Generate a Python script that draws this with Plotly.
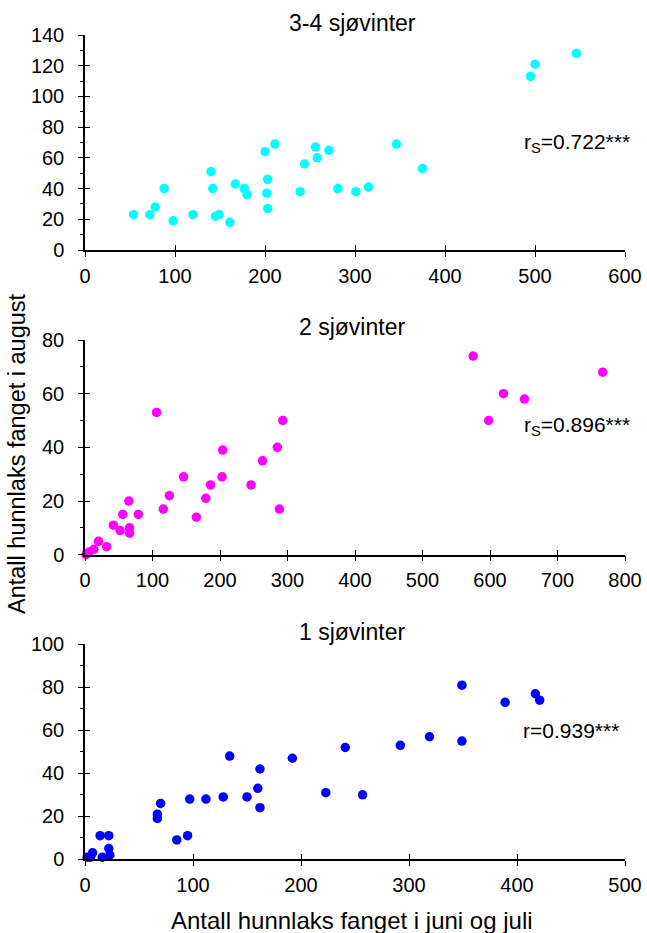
import plotly.graph_objects as go

# 3-4 sjøvinter
juni_juli_34 = [54, 72, 78, 88, 98, 120, 140, 142, 145, 149, 161, 167, 177, 180, 200, 203,
                202, 203, 211, 239, 244, 256, 258, 271, 281, 301, 315, 346, 375, 495, 500, 546]
august_34 = [23, 23, 28, 40, 19, 23, 51, 40, 22, 23, 18, 43, 40, 36, 64, 46,
             37, 27, 69, 38, 56, 67, 60, 65, 40, 38, 41, 69, 53, 113, 121, 128]

# 2 sjøvinter
juni_juli_2 = [1.5, 6, 13, 20, 32, 42, 52, 56, 65, 66, 66, 79, 106, 116, 125, 146, 165, 179,
               186, 203, 204, 246, 263, 285, 288, 293, 575, 598, 620, 651, 767]
august_2 = [0, 1, 2, 5, 3, 11, 9, 15, 20, 10, 8, 15, 53, 17, 22, 29, 14, 21,
            26, 29, 39, 26, 35, 40, 17, 50, 74, 50, 60, 58, 68]

# 1 sjøvinter
juni_juli_1 = [2, 5, 7, 14, 16, 22, 22, 23, 67, 67, 70, 85, 95, 97, 112, 128, 134, 150,
               160, 162, 162, 192, 223, 241, 257, 292, 319, 349, 349, 389, 417, 421]
august_1 = [1, 1, 3, 11, 1, 11, 5, 2, 21, 19, 26, 9, 11, 28, 28, 29, 48, 29,
            33, 42, 24, 47, 31, 52, 30, 53, 57, 55, 81, 73, 77, 74]

titles = ["3-4 sjøvinter", "2 sjøvinter", "1 sjøvinter"]
stats = ["r<sub>S</sub>=0.722***", "r<sub>S</sub>=0.896***", "r=0.939***"]
stat_pos = [(485, 70), (647, 48), (404, 60)]
colors = ["#00FFFF", "#FF00FF", "#0000FF"]
x_ranges = [(0, 600, 100), (0, 800, 100), (0, 500, 100)]
y_ranges = [(0, 140, 20), (0, 80, 20), (0, 100, 20)]

W, H = 647, 933
x_dom = [85 / W, 625 / W]
# pixel rows (top, bottom) of each plot area
rows = [(35, 250), (340, 554.7), (644.3, 859.3)]
y_doms = [[1 - b / H, 1 - t / H] for t, b in rows]

FONT = "Liberation Sans, Arial, sans-serif"
TICK_FONT = dict(family=FONT, size=20, color="black")

fig = go.Figure()
panels = [(juni_juli_34, august_34), (juni_juli_2, august_2), (juni_juli_1, august_1)]

layout = {}
for i, (xs, ys) in enumerate(panels):
    n = i + 1
    xa = "x" if n == 1 else f"x{n}"
    ya = "y" if n == 1 else f"y{n}"
    fig.add_trace(go.Scatter(
        x=xs, y=ys, mode="markers", xaxis=xa, yaxis=ya,
        marker=dict(color=colors[i], size=9.5, line=dict(width=0)),
        cliponaxis=False, showlegend=False,
    ))
    x0, x1, dx = x_ranges[i]
    y0, y1, dy = y_ranges[i]
    xv = list(range(x0, x1 + 1, dx))
    yv = list(range(y0, y1 + 1, dy))
    common = dict(showgrid=False, zeroline=False, fixedrange=True, automargin=False)
    layout[f"xaxis{'' if n == 1 else n}"] = dict(
        domain=x_dom, anchor=ya, range=[x0, x1], tickvals=xv,
        ticks="outside", ticklen=5, tickwidth=1.3, tickcolor="black",
        showline=True, linecolor="black", linewidth=1.5,
        tickfont=TICK_FONT, ticklabelstandoff=2, **common)
    layout[f"yaxis{'' if n == 1 else n}"] = dict(
        domain=y_doms[i], anchor=xa, range=[y0, y1], tickvals=yv,
        ticks="outside", ticklen=5, tickwidth=1.3, tickcolor="black",
        showline=True, linecolor="black", linewidth=1.5,
        minor=dict(ticks="outside", ticklen=3, tickcolor="black", dtick=dy / 2, tickwidth=1),
        tickfont=TICK_FONT, ticklabelstandoff=10, **common)
    # inner half of the crossing tick marks
    ox, oy = n + 3, n + 3
    layout[f"xaxis{ox}"] = dict(
        overlaying=xa, anchor=ya, range=[x0, x1], tickvals=xv,
        ticks="inside", ticklen=5, tickwidth=1.3, tickcolor="black",
        showticklabels=False, showline=False, **common)
    layout[f"yaxis{oy}"] = dict(
        overlaying=ya, anchor=xa, range=[y0, y1], tickvals=yv,
        ticks="inside", ticklen=5, tickwidth=1.3, tickcolor="black",
        showticklabels=False, showline=False, **common)
    fig.add_trace(go.Scatter(x=[x0], y=[y0], xaxis=f"x{ox}", yaxis=f"y{oy}",
                             mode="markers", marker=dict(opacity=0),
                             showlegend=False, hoverinfo="skip"))

annotations = []
title_rows = [23, 327, 632]
for i in range(3):
    n = i + 1
    annotations.append(dict(
        text=titles[i], x=352 / W, y=1 - title_rows[i] / H, xref="paper", yref="paper",
        xanchor="center", yanchor="middle", showarrow=False,
        font=dict(family=FONT, size=23, color="black")))
    sx, sy = stat_pos[i]
    annotations.append(dict(
        text=stats[i], x=sx, y=sy, xref="x" if n == 1 else f"x{n}",
        yref="y" if n == 1 else f"y{n}", xanchor="left", yanchor="middle",
        showarrow=False, font=dict(family=FONT, size=21, color="black")))

annotations.append(dict(
    text="Antall hunnlaks fanget i juni og juli", x=352 / W, y=1 - 920 / H,
    xref="paper", yref="paper", xanchor="center", yanchor="middle", showarrow=False,
    font=dict(family=FONT, size=24, color="black")))
annotations.append(dict(
    text="Antall hunnlaks fanget i august", x=17 / W, y=1 - 454 / H,
    xref="paper", yref="paper", xanchor="center", yanchor="middle", showarrow=False,
    textangle=-90, font=dict(family=FONT, size=23.5, color="black")))

fig.update_layout(
    width=W, height=H, margin=dict(l=0, r=0, t=0, b=0, autoexpand=False),
    paper_bgcolor="white", plot_bgcolor="white",
    annotations=annotations, **layout)

fig.write_html("out.html")
